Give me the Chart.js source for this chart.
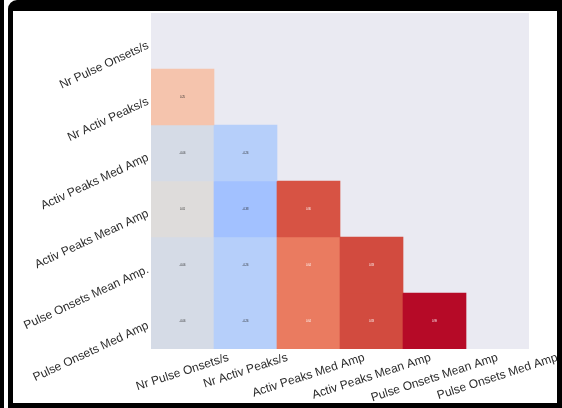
<!DOCTYPE html>
<html>
<head>
<meta charset="utf-8">
<script src="https://cdn.jsdelivr.net/npm/chart.js@4.4.1/dist/chart.umd.min.js"></script>
<style>
  html, body { margin: 0; padding: 0; background: #fff; }
  #wrap { position: relative; width: 562px; height: 408px; overflow: hidden; }
  #heatmap { position: absolute; left: 0; top: 0; }
  .edge { position: absolute; background: #000; }
  #frame {
    position: absolute; left: 8px; top: 0; width: 554px; height: 408px;
    box-sizing: border-box; border-style: solid; border-color: #000;
    border-width: 11px 5px 5px 5px; border-top-left-radius: 9px;
  }
</style>
</head>
<body>
<div id="wrap">
  <canvas id="heatmap" width="562" height="408"></canvas>
  <div class="edge" style="left:0;top:0;width:4px;height:408px"></div>
  <div id="frame"></div>
</div>
<script>
// columns / rows of the correlation matrix
const xLabels = ["Nr Pulse Onsets/s", "Nr Activ Peaks/s", "Activ Peaks Med Amp",
  "Activ Peaks Mean Amp", "Pulse Onsets Mean Amp", "Pulse Onsets Med Amp"];
const yLabels = ["Nr Pulse Onsets/s", "Nr Activ Peaks/s", "Activ Peaks Med Amp",
  "Activ Peaks Mean Amp", "Pulse Onsets Mean Amp.", "Pulse Onsets Med Amp"];

// lower triangle, one row each (upper half + diagonal are masked)
const corrNrPulseOnsets = [];
const corrNrActivPeaks = [0.25];
const corrActivMedAmp = [-0.06, -0.26];
const corrActivMeanAmp = [0.01, -0.38, 0.80];
const corrPulseMeanAmp = [-0.06, -0.26, 0.64, 0.83];
const corrPulseMedAmp = [-0.06, -0.26, 0.64, 0.83, 0.99];
const corrRows = [corrNrPulseOnsets, corrNrActivPeaks, corrActivMedAmp,
  corrActivMeanAmp, corrPulseMeanAmp, corrPulseMedAmp];

// coolwarm colormap, vmin -1 .. vmax 1
const coolwarm = [
  [59,76,192],[68,90,204],[77,104,215],[87,117,225],[98,130,234],[108,142,241],
  [119,154,247],[130,165,251],[141,176,254],[152,185,255],[163,194,255],[174,201,253],
  [184,208,249],[194,213,244],[204,217,238],[213,219,230],[221,221,221],[229,216,209],
  [236,211,197],[241,204,185],[245,196,173],[247,187,160],[247,177,148],[247,166,135],
  [244,154,123],[241,141,111],[236,127,99],[229,112,88],[222,96,77],[213,80,66],
  [203,62,56],[192,40,47],[180,4,38]
];
function cmap(v) {
  const s = Math.min(1, Math.max(0, (v + 1) / 2)) * (coolwarm.length - 1);
  const i = Math.min(coolwarm.length - 2, Math.floor(s));
  const f = s - i;
  return coolwarm[i].map((c, k) => Math.round(c + (coolwarm[i + 1][k] - c) * f));
}
const rgb = c => `rgb(${c[0]},${c[1]},${c[2]})`;
function lum(c) {
  const l = c.map(x => { x /= 255; return x <= 0.03928 ? x / 12.92 : Math.pow((x + 0.055) / 1.055, 2.4); });
  return 0.2126 * l[0] + 0.7152 * l[1] + 0.0722 * l[2];
}

// one floating-bar dataset per row, spanning [row, row + 1] on the y scale
const datasets = corrRows.map((vals, r) => ({
  label: yLabels[r],
  data: xLabels.map((_, c) => c < vals.length ? [r, r + 1] : null),
  backgroundColor: xLabels.map((_, c) => c < vals.length ? rgb(cmap(vals[c])) : "transparent"),
  borderWidth: 0,
  grouped: false,
  categoryPercentage: 1,
  barPercentage: 1
}));

const FONT = '12px "Liberation Sans", Arial, sans-serif';

const plotBg = {
  id: "plotBg",
  beforeDatasetsDraw(chart) {
    const { ctx, chartArea: a } = chart;
    ctx.save();
    ctx.fillStyle = "#eaeaf2";
    ctx.fillRect(a.left, a.top, a.right - a.left, a.bottom - a.top);
    ctx.restore();
  }
};

const heatLabels = {
  id: "heatLabels",
  afterDatasetsDraw(chart) {
    const { ctx, chartArea: a, scales: { x, y } } = chart;
    ctx.save();

    // cell annotations
    ctx.font = '2.6px "Liberation Sans", Arial, sans-serif';
    ctx.textAlign = "center";
    ctx.textBaseline = "middle";
    corrRows.forEach((vals, r) => {
      vals.forEach((v, c) => {
        ctx.fillStyle = lum(cmap(v)) > 0.408 ? "#262626" : "#ffffff";
        ctx.fillText(v.toFixed(2), x.getPixelForValue(c), y.getPixelForValue(r + 0.5));
      });
    });

    ctx.font = FONT;
    ctx.fillStyle = "#2b2b2b";

    // x tick labels, rotated and centred on each column
    const ax = 18 * Math.PI / 180, h = 11;
    xLabels.forEach((t, i) => {
      const w = ctx.measureText(t).width;
      const H = w * Math.sin(ax) + h * Math.cos(ax);
      ctx.save();
      ctx.translate(x.getPixelForValue(i), a.bottom + 3 + H / 2);
      ctx.rotate(-ax);
      ctx.textAlign = "center";
      ctx.textBaseline = "middle";
      ctx.fillText(t, 0, 0);
      ctx.restore();
    });

    // y tick labels, rotated about their right end
    const ay = 25 * Math.PI / 180;
    yLabels.forEach((t, i) => {
      ctx.save();
      ctx.translate(a.left - 3, y.getPixelForValue(i + 0.5) + 4);
      ctx.rotate(-ay);
      ctx.textAlign = "right";
      ctx.textBaseline = "middle";
      ctx.fillText(t, 0, 0);
      ctx.restore();
    });
    ctx.restore();
  }
};

new Chart(document.getElementById("heatmap"), {
  type: "bar",
  data: { labels: xLabels, datasets },
  options: {
    responsive: false,
    animation: false,
    layout: { padding: { left: 151, right: 33, top: 13, bottom: 59 } },
    plugins: { legend: { display: false }, tooltip: { enabled: false } },
    scales: {
      x: { type: "category", display: false },
      y: { type: "linear", min: 0, max: 6, reverse: true, display: false }
    }
  },
  plugins: [plotBg, heatLabels]
});
</script>
</body>
</html>
